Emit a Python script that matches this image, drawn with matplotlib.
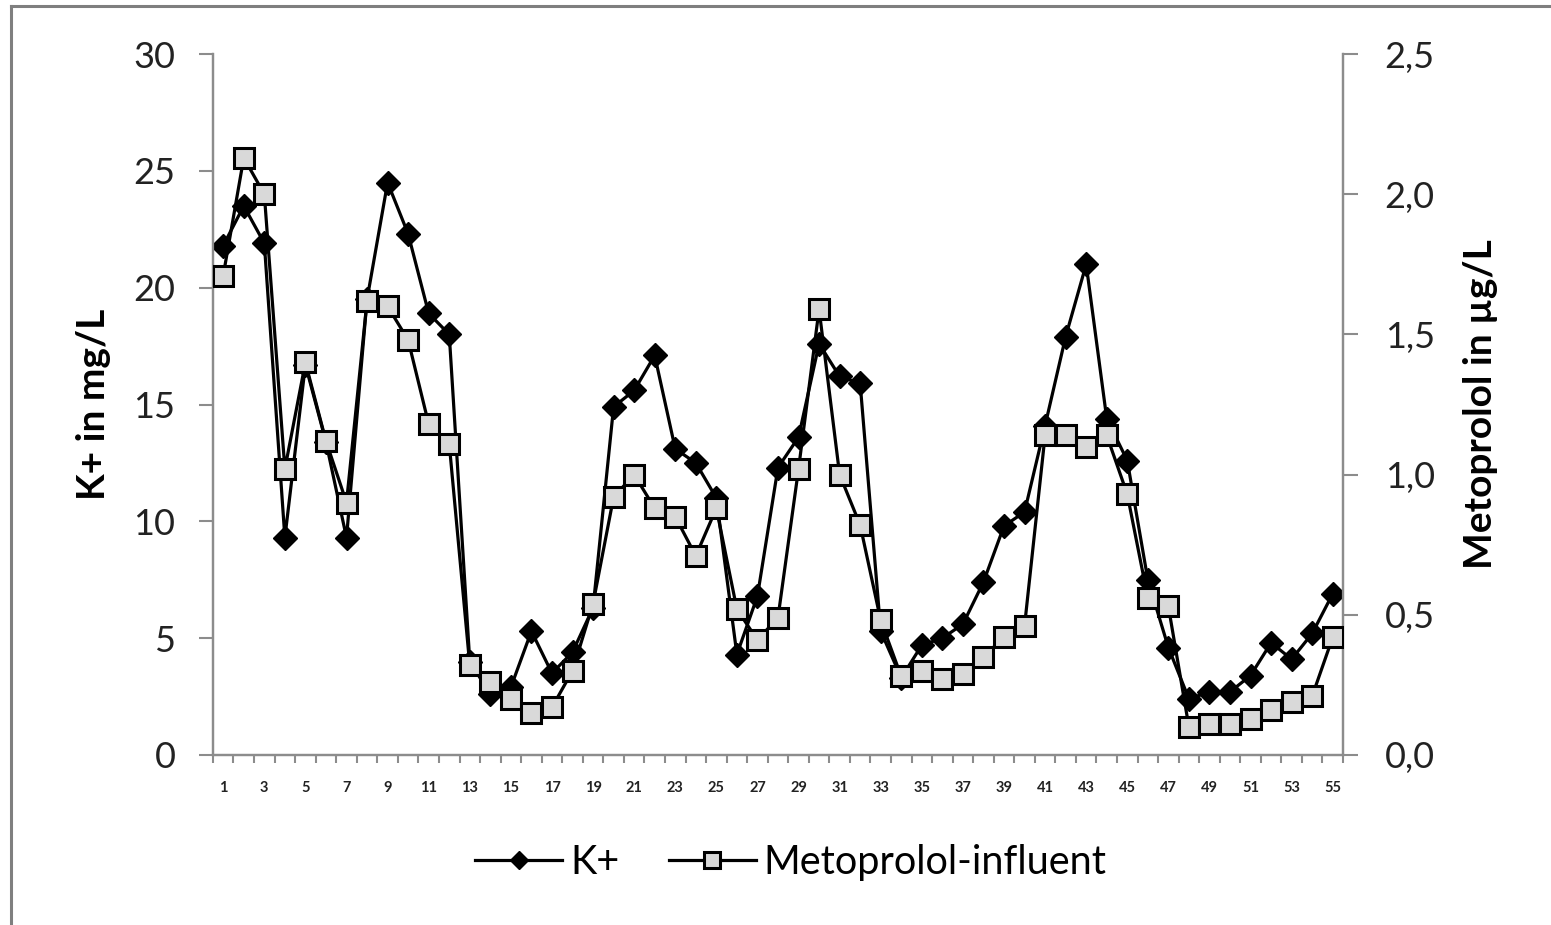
import matplotlib
matplotlib.use("Agg")
import matplotlib.pyplot as plt
from matplotlib.lines import Line2D
import numpy as np

# sample number (1..55)
samples = list(range(1, 56))

# K+ concentration, mg/L (left axis)
k_plus = [21.8, 23.5, 21.9, 9.3, 16.7, 13.4, 9.3, 19.5, 24.5, 22.3,
          18.9, 18.0, 4.0, 2.6, 2.9, 5.3, 3.5, 4.4, 6.3, 14.9,
          15.6, 17.1, 13.1, 12.5, 11.0, 4.3, 6.8, 12.3, 13.6, 17.6,
          16.2, 15.9, 5.3, 3.3, 4.7, 5.0, 5.6, 7.4, 9.8, 10.4,
          14.1, 17.9, 21.0, 14.4, 12.6, 7.5, 4.6, 2.4, 2.7, 2.7,
          3.4, 4.8, 4.1, 5.2, 6.9]

# metoprolol in the influent, µg/L (right axis)
metoprolol = [1.71, 2.13, 2.00, 1.02, 1.40, 1.12, 0.90, 1.62, 1.60, 1.48,
              1.18, 1.11, 0.32, 0.26, 0.20, 0.15, 0.17, 0.30, 0.54, 0.92,
              1.00, 0.88, 0.85, 0.71, 0.88, 0.52, 0.41, 0.49, 1.02, 1.59,
              1.00, 0.82, 0.48, 0.28, 0.30, 0.27, 0.29, 0.35, 0.42, 0.46,
              1.14, 1.14, 1.10, 1.14, 0.93, 0.56, 0.53, 0.10, 0.11, 0.11,
              0.13, 0.16, 0.19, 0.21, 0.42]

left_ticks = [0, 5, 10, 15, 20, 25, 30]
right_ticks = [0.0, 0.5, 1.0, 1.5, 2.0, 2.5]
right_labels = ["0,0", "0,5", "1,0", "1,5", "2,0", "2,5"]

plt.rcParams["font.family"] = ["Lato", "DejaVu Sans"]
AXIS_GREY = "#8c8c8c"

fig = plt.figure(figsize=(15.51, 9.25), dpi=100)
ax = fig.add_axes([0.1373, 0.1838, 0.7286, 0.7578])
ax2 = ax.twinx()

x = np.array(samples)
ax.plot(x, k_plus, color="black", lw=2.3, marker="D", ms=12.5,
        mfc="black", mec="black", label="K+", zorder=3)
ax2.plot(x, metoprolol, color="black", lw=2.3, marker="s", ms=14.5,
         mfc="#d9d9d9", mec="black", mew=2.2, label="Metoprolol-influent", zorder=3)

ax.set_xlim(0.5, 55.5)
ax.set_ylim(0, 30)
ax2.set_ylim(0, 2.5)

# category-style x axis: tick marks between samples, labels on odd samples
ax.set_xticks(np.arange(0.5, 56, 1.0))
ax.set_xticklabels([])
ax.tick_params(axis="x", which="major", length=6, width=1.5, color=AXIS_GREY, direction="out")
ax.set_xticks(samples[::2], minor=True)
ax.set_xticklabels([str(s) for s in samples[::2]], minor=True,
                   fontsize=10.5, fontweight="bold", color="#222222")
ax.tick_params(axis="x", which="minor", length=0, pad=19)

ax.set_yticks(left_ticks)
ax.set_yticklabels([str(t) for t in left_ticks], fontsize=26, color="#222222")
ax.tick_params(axis="y", length=10, width=1.5, color=AXIS_GREY, pad=17)

ax2.set_yticks(right_ticks)
ax2.set_yticklabels(right_labels, fontsize=26, color="#222222")
ax2.tick_params(axis="y", length=11, width=1.5, color=AXIS_GREY, pad=19)

for a in (ax, ax2):
    a.spines["top"].set_visible(False)
    for side in ("left", "right", "bottom"):
        a.spines[side].set_color(AXIS_GREY)
        a.spines[side].set_linewidth(1.6)

ax.set_ylabel("K+ in mg/L", fontsize=28, fontweight="bold", labelpad=16)
ax2.set_ylabel("Metoprolol in µg/L", fontsize=28, fontweight="bold", labelpad=20)

h1, l1 = ax.get_legend_handles_labels()
h2, l2 = ax2.get_legend_handles_labels()
fig.legend(h1 + h2, l1 + l2, loc="center", bbox_to_anchor=(0.51, 0.068), ncol=2,
           frameon=False, fontsize=28.5, handlelength=2.2, columnspacing=1.25,
           handletextpad=0.2, markerscale=0.75)

# outer chart frame (left and top edges)
fig.add_artist(Line2D([0.0072, 0.0072], [0, 0.994], color="#7f7f7f", lw=2.2,
                      transform=fig.transFigure))
fig.add_artist(Line2D([0.0072, 1.0], [0.994, 0.994], color="#7f7f7f", lw=2.2,
                      transform=fig.transFigure))

fig.savefig("out.png", dpi=100)
